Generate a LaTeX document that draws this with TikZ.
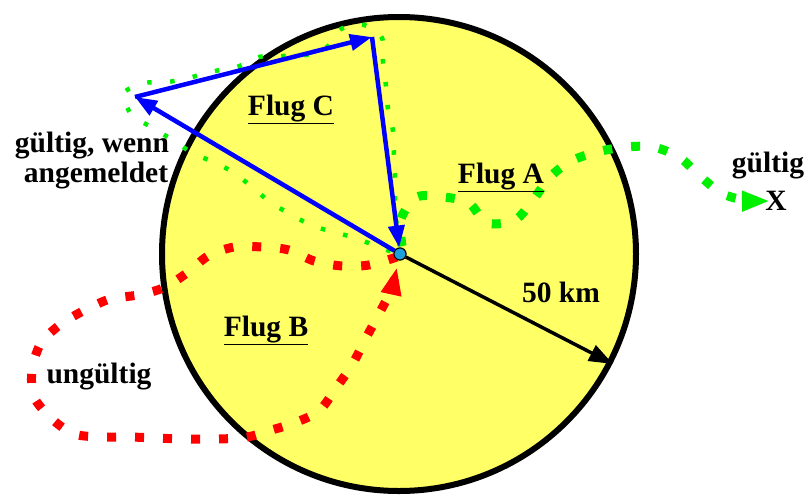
\documentclass[tikz,border=0pt]{standalone}
\usepackage{fontspec}
\setmainfont{Liberation Serif}
\usetikzlibrary{arrows.meta}
\definecolor{zone}{RGB}{255,255,102}
\definecolor{grn}{RGB}{0,240,0}
\definecolor{rd}{RGB}{255,0,0}
\definecolor{bl}{RGB}{0,0,255}
\definecolor{hub}{RGB}{30,160,220}
\tikzset{
  lbl/.style={font=\fontsize{29.5pt}{30pt}\selectfont\bfseries, inner sep=0pt, anchor=base},
  bigdots/.style={line width=9pt, dash pattern=on 9pt off 19pt},
  smalldots/.style={line width=4.5pt, dash pattern=on 4.5pt off 18.5pt, grn},
  bluearrow/.style={bl, line width=4.5pt, -{Triangle[length=22pt,width=16pt]}},
  hubstyle/.style={circle, draw=black, line width=1pt, fill=hub, minimum size=12pt, inner sep=0pt},
}
\begin{document}
\begin{tikzpicture}[x=1pt,y=-1pt]
\useasboundingbox (0,0) rectangle (807,496);
% zone
\draw[fill=zone, line width=6pt] (399,254) circle (237);
\node[hubstyle] (c) at (400,254) {};
% points
\coordinate (v1) at (135,97);
\coordinate (v2) at (372,37);
\coordinate (r) at (613,364);
\coordinate (rt) at (397,267);
\coordinate (gt) at (770,201);
% green small dotted (Flug C)
\draw[smalldots] plot[smooth] coordinates {(402,246) (396,220) (395,202) (395,179) (394,155) (393,131) (388,109) (386,86) (383,62) (382,38) (364,25) (341,29) (327,47) (306,55) (283,56) (259,57) (237,67) (215,71) (192,77) (168,82) (145,83) (124,93) (131,114) (151,127) (171,139) (191,152) (213,162) (233,172) (252,187) (270,202) (290,214) (311,225) (333,232) (356,238) (378,247) (396,253)};
% green Flug A
\draw[bigdots, grn, -{Triangle[length=28pt,width=19pt]}] plot[smooth] coordinates {(402,246) (401,219) (417,197) (444,197) (469,203) (487,223) (515,220) (533,200) (550,177) (571,161) (597,152) (625,147) (653,147) (679,157) (700,176) (721,193) (744,200) (gt)};
% red Flug B
\draw[bigdots, rd, -{Triangle[length=28pt,width=19pt]}] plot[smooth] coordinates {(397,257) (369,265) (342,266) (314,261) (289,250) (262,247) (234,247) (208,256) (187,273) (163,288) (138,295) (110,299) (85,310) (61,324) (41,343) (32,370) (34,397) (52,419) (74,434) (102,437) (130,437) (186,439) (241,438) (268,431) (294,423) (319,411) (336,388) (352,365) (366,338) (380,312) (391,290) (rt)};
% blue triangle
\draw[bluearrow] (c) -- (v1);
\draw[bluearrow] (v1) -- (v2);
\draw[bluearrow] (v2) -- (c);
% radius
\draw[line width=3.5pt, -{Triangle[length=24pt,width=17pt]}] (c) -- (r);
\node[hubstyle] at (400,254) {};
% labels
\node[lbl] (fc) at (291,115) {\underline{Flug C}};
\node[lbl] (fa) at (501,183) {\underline{Flug A}};
\node[lbl] (fb) at (266,336) {\underline{Flug B}};
\node[lbl] (ug) at (99,383) {ungültig};
\node[lbl] (g1) at (92,152) {gültig, wenn};
\node[lbl] (g2) at (96,182) {angemeldet};
\node[lbl] (gr) at (768,172) {gültig};
\node[lbl] (x) at (776,210) {X};
\node[lbl] (km) at (561,302) {50 km};
\end{tikzpicture}
\end{document}
